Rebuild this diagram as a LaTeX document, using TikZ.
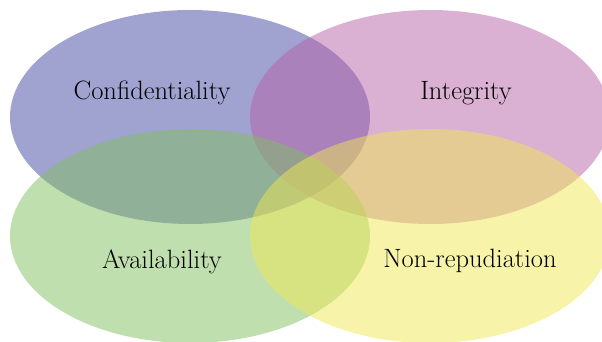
\documentclass[tikz,border=0pt]{standalone}
\usepackage{fontspec}
\definecolor{cblue}{RGB}{65,71,161}
\definecolor{cpink}{RGB}{181,97,167}
\definecolor{cgreen}{RGB}{129,191,95}
\definecolor{cyellow}{RGB}{239,231,83}
\tikzset{
  venn/.style={fill opacity=0.5, draw=none},
  lbl/.style={font=\fontsize{26.5}{30}\selectfont, text=black}
}
\begin{document}
\begin{tikzpicture}[x=1pt,y=-1pt]
\useasboundingbox (0,0) rectangle (602,342);
\begin{scope}
\clip (0,0) rectangle (602,342);
\fill[venn, cblue] (190,117) ellipse [x radius=180, y radius=107];
\fill[venn, cpink] (430,117) ellipse [x radius=180, y radius=107];
\fill[venn, cgreen] (190,236) ellipse [x radius=180, y radius=107];
\fill[venn, cyellow] (430,236) ellipse [x radius=180, y radius=107];
\end{scope}
\node[lbl] (conf) at (152,93) {Confidentiality};
\node[lbl] (integ) at (466,93) {Integrity};
\node[lbl] (avail) at (162,262) {Availability};
\node[lbl] (nonrep) at (470,261) {Non-repudiation};
\end{tikzpicture}
\end{document}
